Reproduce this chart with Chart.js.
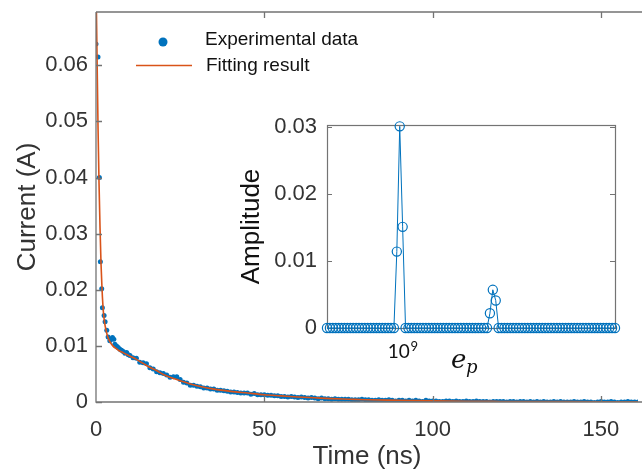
<!DOCTYPE html>
<html>
<head>
<meta charset="utf-8">
<script src="https://cdn.jsdelivr.net/npm/chart.js@4"></script>
<style>
  html, body { margin: 0; padding: 0; background: #fff; }
  #wrap { position: relative; width: 642px; height: 472px; overflow: hidden; }
  #main { position: absolute; left: 0; top: 0; }
  #inset { position: absolute; left: 230px; top: 110px; }
</style>
</head>
<body>
<div id="wrap">
  <canvas id="main" width="642" height="472"></canvas>
  <canvas id="inset" width="412" height="270"></canvas>
</div>
<script>
// measured transient current (ns, A)
var expTime = [
  0, 0.6, 1.0, 1.3, 1.7, 1.9, 2.4, 2.7, 3.2, 3.6, 4.1, 4.6, 4.9, 5.3, 5.6, 6.1, 6.6, 7.1, 7.6, 8.1, 8.6, 9.1, 9.6, 10.1,
  11, 12, 13, 14, 15, 16, 17, 18, 19, 20,
  21, 22, 23, 24, 25, 26, 27, 28, 29, 30,
  31, 32, 33, 34, 35, 36, 37, 38, 39, 40,
  41, 42, 43, 44, 45, 46, 47, 48, 49, 50,
  51, 52, 53, 54, 55, 56, 57, 58, 59, 60,
  61, 62, 63, 64, 65, 66, 67, 68, 69, 70,
  71, 72, 73, 74, 75, 76, 77, 78, 79, 80,
  81, 82, 83, 84, 85, 86, 87, 88, 89, 90,
  91, 92, 93, 94, 95, 96, 97, 98, 99, 100,
  101, 102, 103, 104, 105, 106, 107, 108, 109, 110,
  111, 112, 113, 114, 115, 116, 117, 118, 119, 120,
  121, 122, 123, 124, 125, 126, 127, 128, 129, 130,
  131, 132, 133, 134, 135, 136, 137, 138, 139, 140,
  141, 142, 143, 144, 145, 146, 147, 148, 149, 150,
  151, 152, 153, 154, 155, 156, 157, 158, 159, 160, 161
];
var expCurrent = [
  0.0638, 0.0615, 0.0400, 0.0250, 0.0202, 0.0168, 0.0154, 0.0143, 0.0128, 0.0116, 0.0109, 0.0112, 0.0115, 0.0112, 0.0103, 0.0100, 0.0097, 0.0094, 0.0092, 0.0090, 0.0087, 0.0088, 0.0084, 0.0083,
  0.0079, 0.0078, 0.0071, 0.0070, 0.0068, 0.0061, 0.0059, 0.0054, 0.0052, 0.0051,
  0.0048, 0.0044, 0.0045, 0.0045, 0.0040, 0.0035, 0.0034, 0.0030, 0.0030, 0.0028,
  0.0027, 0.0025, 0.0025, 0.0023, 0.0023, 0.0021, 0.0021, 0.0020, 0.0019, 0.0018,
  0.0018, 0.0017, 0.0016, 0.0016, 0.0016, 0.0014, 0.0015, 0.0013, 0.0013, 0.0013,
  0.0012, 0.0012, 0.0011, 0.0011, 0.0010, 0.0010, 0.0009, 0.0010, 0.0009, 0.0008,
  0.0009, 0.0008, 0.0007, 0.0008, 0.0007, 0.0006, 0.0007, 0.0006, 0.0006, 0.0005,
  0.0006, 0.0005, 0.0005, 0.0005, 0.0005, 0.0004, 0.0004, 0.0004, 0.0005, 0.0004,
  0.0004, 0.0003, 0.0003, 0.0004, 0.0003, 0.0003, 0.0004, 0.0003, 0.0002, 0.0003,
  0.0003, 0.0002, 0.0003, 0.0002, 0.0003, 0.0002, 0.0001, 0.0003, 0.0002, 0.0002,
  0.0002, 0.0001, 0.0001, 0.0002, 0.0002, 0.0001, 0.0002, 0.0001, 0.0001, 0.0002,
  0.0001, 0.0001, 0.0002, 0.0001, 0.0001, 0.0001, 0.0000, 0.0001, 0.0001, 0.0001,
  0.0001, 0.0000, 0.0001, 0.0001, 0.0000, 0.0001, 0.0001, 0.0000, 0.0001, 0.0000,
  0.0001, 0.0000, 0.0001, 0.0000, 0.0000, 0.0001, 0.0000, 0.0001, 0.0000, 0.0000,
  0.0000, 0.0001, 0.0000, 0.0000, 0.0001, 0.0000, 0.0000, -0.0001, 0.0000, 0.0001,
  0.0000, 0.0000, 0.0001, 0.0000, -0.0001, 0.0000, 0.0000, 0.0001, 0.0000, 0.0000, 0.0000
];

// fitted curve
var fitTime = [0, 0.3, 0.6, 0.9, 1.2, 1.5, 1.8, 2.2, 2.7, 3.3, 4, 5, 6, 7, 8, 10, 12, 15, 18, 20,
  22, 25, 28, 30, 35, 40, 45, 50, 55, 60, 65, 70, 75, 80, 90, 100, 110, 120, 140, 161];
var fitCurrent = [0.075, 0.062, 0.049, 0.039, 0.031, 0.0245, 0.0200, 0.0160, 0.0136, 0.0120, 0.0109, 0.0100, 0.0095, 0.0091, 0.0088, 0.0082, 0.0076, 0.0065, 0.0056, 0.0049,
  0.0044, 0.0038, 0.0032, 0.0029, 0.0023, 0.0019, 0.0016, 0.0013, 0.0011, 0.0009, 0.00075, 0.0006, 0.0005, 0.0004, 0.0003, 0.0002, 0.00013, 0.0001, 0.00006, 0.00004];

// inset: amplitude over the e_p grid (grid index, log spaced)
var amplitude = [
  0, 0, 0, 0, 0, 0, 0, 0, 0, 0,
  0, 0, 0, 0, 0, 0, 0, 0, 0, 0,
  0, 0, 0, 0, 0.0114, 0.0301, 0.0151, 0, 0, 0,
  0, 0, 0, 0, 0, 0, 0, 0, 0, 0,
  0, 0, 0, 0, 0, 0, 0, 0, 0, 0,
  0, 0, 0, 0, 0, 0, 0.0022, 0.0057, 0.0041, 0,
  0, 0, 0, 0, 0, 0, 0, 0, 0, 0,
  0, 0, 0, 0, 0, 0, 0, 0, 0, 0,
  0, 0, 0, 0, 0, 0, 0, 0, 0, 0,
  0, 0, 0, 0, 0, 0, 0, 0, 0, 0
];
var epTickIndex = 26; // grid index of e_p = 10^9

var xTicks = [0, 50, 100, 150];
var yTicks = [0, 0.01, 0.02, 0.03, 0.04, 0.05, 0.06];
var insetYTicks = [0, 0.01, 0.02, 0.03];

var BLUE = "#0072BD";
var ORANGE = "#D95319";
var AXIS = "#737373";
var TEXT = "#333333";
var FONT = "'Liberation Sans', Arial, sans-serif";

function tickLabel(v) {
  return v === 0 ? "0" : v.toFixed(2);
}

function toPoints(xs, ys) {
  return xs.map(function (x, i) {
    return { x: x, y: ys[i] };
  });
}

function fixedTicks(list) {
  return function (scale) {
    scale.ticks = list.map(function (v) {
      return { value: v };
    });
  };
}

// keep the plot box where the layout padding puts it
function fitBox(w, h) {
  return function (s) {
    if (w) s.width = w;
    if (h) s.height = h;
    s.paddingTop = 0;
    s.paddingBottom = 0;
    s.paddingLeft = 0;
    s.paddingRight = 0;
  };
}

var mainFrame = {
  id: "mainFrame",
  afterDatasetsDraw: function (chart) {
    var c = chart.ctx, a = chart.chartArea;
    var sx = chart.scales.x, sy = chart.scales.y;
    c.save();
    c.strokeStyle = AXIS;
    c.lineWidth = 1.3;
    c.beginPath();
    c.moveTo(a.left, a.top);
    c.lineTo(a.right + 5, a.top);
    c.moveTo(a.left, a.top);
    c.lineTo(a.left, a.bottom);
    c.lineTo(a.right + 5, a.bottom);
    yTicks.forEach(function (v) {
      var y = Math.round(sy.getPixelForValue(v)) + 0.5;
      c.moveTo(a.left, y);
      c.lineTo(a.left + 6, y);
    });
    xTicks.forEach(function (v) {
      if (v === 0) return;
      var x = Math.round(sx.getPixelForValue(v)) + 0.5;
      c.moveTo(x, a.bottom);
      c.lineTo(x, a.bottom - 6);
      c.moveTo(x, a.top);
      c.lineTo(x, a.top + 6);
    });
    c.stroke();

    // legend
    c.fillStyle = BLUE;
    c.beginPath();
    c.arc(163, 42, 4.5, 0, Math.PI * 2);
    c.fill();
    c.strokeStyle = ORANGE;
    c.lineWidth = 1.6;
    c.beginPath();
    c.moveTo(136, 65.5);
    c.lineTo(192, 65.5);
    c.stroke();
    c.fillStyle = "#111";
    c.font = "19px " + FONT;
    c.textBaseline = "middle";
    c.fillText("Experimental data", 205, 40);
    c.fillText("Fitting result", 206, 66);
    c.restore();
  }
};

new Chart(document.getElementById("main"), {
  type: "scatter",
  data: {
    datasets: [
      {
        label: "Fitting result",
        data: toPoints(fitTime, fitCurrent),
        showLine: true,
        borderColor: ORANGE,
        borderWidth: 1.6,
        pointRadius: 0,
        cubicInterpolationMode: "monotone",
        order: 0
      },
      {
        label: "Experimental data",
        data: toPoints(expTime, expCurrent),
        backgroundColor: BLUE,
        borderWidth: 0,
        pointRadius: 2.5,
        order: 1
      }
    ]
  },
  options: {
    responsive: false,
    animation: false,
    devicePixelRatio: 1,
    layout: { padding: { top: 12, right: 0, left: 0, bottom: 0 } },
    plugins: { legend: { display: false }, tooltip: { enabled: false } },
    scales: {
      x: {
        type: "linear",
        min: 0,
        max: 161,
        afterBuildTicks: fixedTicks(xTicks),
        ticks: { color: TEXT, font: { family: FONT, size: 22 }, padding: 15, maxRotation: 0 },
        grid: { display: false, drawTicks: false },
        border: { display: false },
        title: { display: true, text: "Time (ns)", color: TEXT, font: { family: FONT, size: 26 }, padding: { top: 0, bottom: 0 } },
        afterFit: fitBox(0, 70)
      },
      y: {
        type: "linear",
        min: 0,
        max: 0.0695,
        afterBuildTicks: fixedTicks(yTicks),
        ticks: { color: TEXT, font: { family: FONT, size: 22 }, padding: 8, callback: tickLabel },
        grid: { display: false, drawTicks: false },
        border: { display: false },
        title: { display: true, text: "Current (A)", color: TEXT, font: { family: FONT, size: 26 }, padding: { top: 12, bottom: 0 } },
        afterFit: fitBox(96, 0)
      }
    }
  },
  plugins: [mainFrame]
});

var insetFrame = {
  id: "insetFrame",
  beforeDatasetsDraw: function (chart) {
    var c = chart.ctx, a = chart.chartArea, sy = chart.scales.y;
    c.save();
    c.fillStyle = "#fff";
    c.fillRect(a.left, a.top, a.right - a.left, a.bottom - a.top);
    c.strokeStyle = AXIS;
    c.lineWidth = 1.2;
    c.strokeRect(Math.round(a.left) + 0.5, Math.round(a.top) + 0.5, Math.round(a.right - a.left), Math.round(a.bottom - a.top));
    c.beginPath();
    insetYTicks.forEach(function (v) {
      var y = Math.round(sy.getPixelForValue(v)) + 0.5;
      c.moveTo(a.left, y);
      c.lineTo(a.left + 5, y);
      c.moveTo(a.right, y);
      c.lineTo(a.right - 5, y);
    });
    c.stroke();
    c.restore();
  },
  afterDraw: function (chart) {
    var c = chart.ctx, sx = chart.scales.x, a = chart.chartArea;
    var x = sx.getPixelForValue(epTickIndex);
    c.save();
    c.fillStyle = "#111";
    c.textBaseline = "alphabetic";
    c.font = "19px Lato, 'Noto Sans', sans-serif";
    var w10 = c.measureText("10").width;
    c.font = "13px Lato, 'Noto Sans', sans-serif";
    var w9 = c.measureText("9").width;
    var x0 = x - (w10 + w9) / 2;
    c.font = "19px Lato, 'Noto Sans', sans-serif";
    c.fillText("10", x0, a.bottom + 30);
    c.font = "13px Lato, 'Noto Sans', sans-serif";
    c.fillText("9", x0 + w10 + 0.5, a.bottom + 23);
    c.font = "italic 26px 'DejaVu Serif', 'Liberation Serif', serif";
    c.fillText("e", 221, a.bottom + 40);
    c.font = "italic 18px 'DejaVu Serif', 'Liberation Serif', serif";
    c.fillText("p", 236, a.bottom + 45);
    c.restore();
  }
};

new Chart(document.getElementById("inset"), {
  type: "scatter",
  data: {
    datasets: [
      {
        label: "Amplitude",
        data: amplitude.map(function (v, i) {
          return { x: i, y: v };
        }),
        showLine: true,
        borderColor: BLUE,
        borderWidth: 1,
        pointStyle: "circle",
        pointRadius: 4.6,
        pointBorderWidth: 1.2,
        pointBorderColor: BLUE,
        pointBackgroundColor: "rgba(0,0,0,0)",
        clip: false
      }
    ]
  },
  options: {
    responsive: false,
    animation: false,
    devicePixelRatio: 1,
    layout: { padding: { top: 15, right: 27, left: 0, bottom: 0 } },
    plugins: { legend: { display: false }, tooltip: { enabled: false } },
    scales: {
      x: {
        type: "linear",
        min: 0,
        max: amplitude.length - 1,
        ticks: { display: false },
        grid: { display: false, drawTicks: false },
        border: { display: false },
        afterFit: fitBox(0, 52)
      },
      y: {
        type: "linear",
        min: 0,
        max: 0.0303,
        afterBuildTicks: fixedTicks(insetYTicks),
        ticks: { color: TEXT, font: { family: FONT, size: 22 }, padding: 10, callback: tickLabel },
        grid: { display: false, drawTicks: false },
        border: { display: false },
        title: { display: true, text: "Amplitude", color: "#111", font: { family: FONT, size: 26 }, padding: { top: 6, bottom: 0 } },
        afterFit: fitBox(97, 0)
      }
    }
  },
  plugins: [insetFrame]
});
</script>
</body>
</html>
